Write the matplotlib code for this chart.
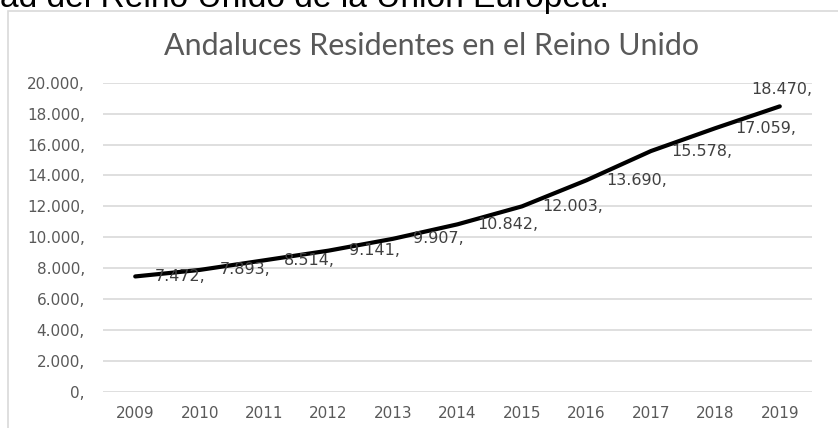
import matplotlib
matplotlib.use("Agg")
import matplotlib.pyplot as plt
from matplotlib.patches import Rectangle

# data
years = ["2009", "2010", "2011", "2012", "2013", "2014",
         "2015", "2016", "2017", "2018", "2019"]
residents = [7472, 7893, 8514, 9141, 9907, 10842,
             12003, 13690, 15578, 17059, 18470]
y_ticks = list(range(0, 20001, 2000))

title = "Andaluces Residentes en el Reino Unido"
page_text = "ad del Reino Unido de la Unión Europea."


def es_fmt(v):
    # spanish thousands separator, with the stray comma excel put there
    return f"{v:,}".replace(",", ".") + ","


def fit_width(txt, target_px, renderer):
    w = txt.get_window_extent(renderer).width
    txt.set_fontsize(txt.get_fontsize() * target_px / w)


W, H = 838, 428
fig = plt.figure(figsize=(W / 100, H / 100), dpi=100)
renderer = fig.canvas.get_renderer()

# clipped body text from the document above the chart
t = fig.text(0.0, 1 - 7 / H, page_text, ha="left", va="baseline",
             fontsize=22, color="black", family="Liberation Sans")
fit_width(t, 607, renderer)

# chart frame (cut off on the right and bottom)
fig.add_artist(Rectangle((8 / W, -0.1), 1.2, 1.1 - 11 / H + 0.0,
                         transform=fig.transFigure, fill=False,
                         edgecolor="#d9d9d9", lw=1.2))

tt = fig.text(431 / W, 1 - 46 / H, title, ha="center", va="center",
              fontsize=19, color="#595959", family="Lato")
fit_width(tt, 537, renderer)

ax = fig.add_axes([103 / W, 36 / H, 709 / W, 309.3 / H])
x = list(range(len(years)))
ax.plot(x, residents, color="black", lw=3, solid_joinstyle="round",
        solid_capstyle="round", zorder=3)

ax.set_xlim(-0.5, len(years) - 0.5)
ax.set_ylim(0, 20000)
ax.set_yticks(y_ticks)
ax.set_yticklabels([es_fmt(v) for v in y_ticks])
ax.set_xticks(x)
ax.set_xticklabels(years)
ax.tick_params(length=0, labelsize=11, labelcolor="#595959")
ax.tick_params(axis="y", pad=13)
ax.tick_params(axis="x", pad=10)
ax.grid(axis="y", color="#d9d9d9", lw=1.2)
ax.set_axisbelow(True)
for s in ax.spines.values():
    s.set_visible(False)

for i, v in enumerate(residents):
    if i == len(residents) - 1:
        ax.annotate(es_fmt(v), (i, v), xytext=(2, 9), textcoords="offset pixels",
                    ha="center", va="bottom", fontsize=11.5, color="#404040")
    else:
        ax.annotate(es_fmt(v), (i, v), xytext=(20, 0), textcoords="offset pixels",
                    ha="left", va="center", fontsize=11.5, color="#404040")

fig.savefig("out.png", dpi=100)
